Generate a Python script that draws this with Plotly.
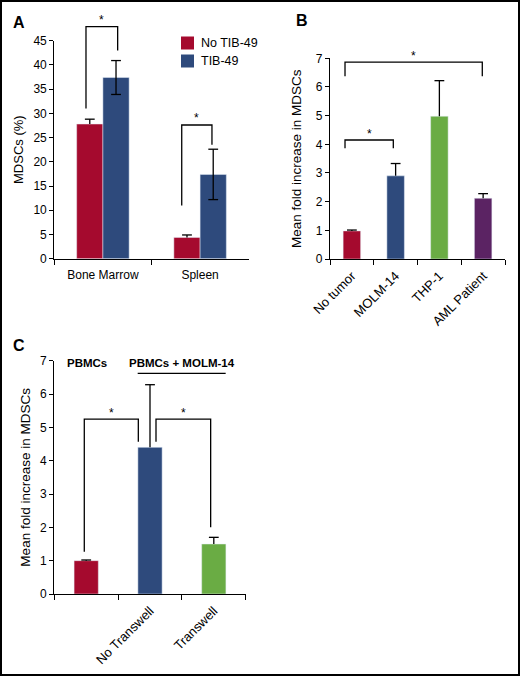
import plotly.graph_objects as go

# ---------------- data ----------------
# Panel A
A_CATEGORIES = ["Bone Marrow", "Spleen"]
A_SERIES = ["No TIB-49", "TIB-49"]
A_NO_TIB = [27.8, 4.4]
A_NO_TIB_ERR = [1.0, 0.5]
A_TIB = [37.4, 17.4]
A_TIB_ERR = [3.5, 5.2]
A_YTICKS = [0, 5, 10, 15, 20, 25, 30, 35, 40, 45]

# Panel B
B_CATEGORIES = ["No tumor", "MOLM-14", "THP-1", "AML Patient"]
B_VALUES = [0.98, 2.9, 4.98, 2.12]
B_ERR = [0.03, 0.43, 1.24, 0.16]
B_YTICKS = [0, 1, 2, 3, 4, 5, 6, 7]

# Panel C
C_CATEGORIES = ["PBMCs", "No Transwell", "Transwell"]
C_TICK_LABELS = ["", "No Transwell", "Transwell"]
C_VALUES = [1.0, 4.4, 1.5]
C_ERR = [0.02, 1.88, 0.2]
C_YTICKS = [0, 1, 2, 3, 4, 5, 6, 7]

# ---------------- styles ----------------
W, H = 520, 676
FONT = "Arial, Liberation Sans, Helvetica, sans-serif"
RED = "#A50A2E"
BLUE = "#2E4A7C"
GREEN = "#6AAC44"
PURPLE = "#5B2363"
B_COLORS = [RED, BLUE, GREEN, PURPLE]
C_COLORS = [RED, BLUE, GREEN]
A_BAR_W = 0.27
A_OFFSETS = [-A_BAR_W, 0.0]


def px_x(p):
    return p / W


def px_y(p):
    return 1 - p / H


# subplot domains (from pixel positions)
A_XDOM = [px_x(54.3), px_x(248.7)]
A_YDOM = [px_y(258.7), px_y(40.7)]
B_XDOM = [px_x(330), px_x(505)]
B_YDOM = [px_y(259), px_y(58.3)]
C_XDOM = [px_x(54.3), px_x(245.7)]
C_YDOM = [px_y(594), px_y(360.7)]

A_YMAX = 45
B_YMAX = 7
C_YMAX = 7


def err(vals, minus=None):
    # stems only; caps are drawn as line markers so no cap sits on the bar top
    d = dict(type="data", array=vals, color="black", thickness=1.3, width=0, visible=True)
    d["symmetric"] = False
    d["arrayminus"] = minus if minus is not None else [0] * len(vals)
    return d


CAP = dict(symbol="line-ew", size=7, color="black", line=dict(color="black", width=1.3))


def caps(x, ys, xa, ya):
    return go.Scatter(x=x, y=ys, mode="markers", marker=CAP, xaxis=xa, yaxis=ya,
                      showlegend=False, hoverinfo="skip", cliponaxis=False)


fig = go.Figure()

# Panel A bars
fig.add_trace(go.Bar(x=A_CATEGORIES, y=A_NO_TIB, name=A_SERIES[0], marker_color=RED,
                     width=A_BAR_W, offset=A_OFFSETS[0], error_y=err(A_NO_TIB_ERR),
                     xaxis="x", yaxis="y", showlegend=False))
fig.add_trace(go.Bar(x=A_CATEGORIES, y=A_TIB, name=A_SERIES[1], marker_color=BLUE,
                     width=A_BAR_W, offset=A_OFFSETS[1], error_y=err(A_TIB_ERR, A_TIB_ERR),
                     xaxis="x", yaxis="y", showlegend=False))

# Panel B bars
fig.add_trace(go.Bar(x=B_CATEGORIES, y=B_VALUES, marker_color=B_COLORS, width=0.4,
                     error_y=err(B_ERR), xaxis="x2", yaxis="y2", showlegend=False))

# Panel C bars
fig.add_trace(go.Bar(x=C_CATEGORIES, y=C_VALUES, marker_color=C_COLORS, width=0.38,
                     error_y=err(C_ERR), xaxis="x3", yaxis="y3", showlegend=False))

# error bar caps
a_idx = list(range(len(A_CATEGORIES)))
xr = [i + A_OFFSETS[0] + A_BAR_W / 2 for i in a_idx]
xb = [i + A_OFFSETS[1] + A_BAR_W / 2 for i in a_idx]
fig.add_trace(caps(xr, [v + e for v, e in zip(A_NO_TIB, A_NO_TIB_ERR)], "x4", "y4"))
fig.add_trace(caps(xb + xb, [v + e for v, e in zip(A_TIB, A_TIB_ERR)] +
                   [v - e for v, e in zip(A_TIB, A_TIB_ERR)], "x4", "y4"))
fig.add_trace(caps(B_CATEGORIES, [v + e for v, e in zip(B_VALUES, B_ERR)], "x2", "y2"))
fig.add_trace(caps(C_CATEGORIES, [v + e for v, e in zip(C_VALUES, C_ERR)], "x3", "y3"))

# invisible overlay subplot for panel B decorations
fig.add_trace(go.Scatter(x=[], y=[], xaxis="x5", yaxis="y5", showlegend=False, hoverinfo="skip"))


def overlay_top(ydom, ymax):
    return (1 - ydom[0]) / (ydom[1] - ydom[0]) * ymax


tick_common = dict(showline=True, linecolor="black", linewidth=1.3, ticks="outside",
                   tickwidth=1.3, tickcolor="black", showgrid=False, automargin=False,
                   zeroline=False)
f12 = dict(size=12, color="black", family=FONT)
f13 = dict(size=13, color="black", family=FONT)

fig.update_layout(
    width=W, height=H, margin=dict(l=0, r=0, t=0, b=0, autoexpand=False),
    paper_bgcolor="white", plot_bgcolor="rgba(0,0,0,0)",
    font=dict(family=FONT, color="black"),
    barmode="overlay",
    xaxis=dict(domain=A_XDOM, anchor="y", type="category", range=[-0.5, 1.5],
               tickson="boundaries", ticklen=5, tickfont=f12, ticklabelstandoff=5, **tick_common),
    yaxis=dict(domain=A_YDOM, anchor="x", range=[0, A_YMAX], tickvals=A_YTICKS, ticklen=4,
               tickfont=f12, title=dict(text="MDSCs (%)", font=dict(size=13), standoff=6),
               **tick_common),
    xaxis2=dict(domain=B_XDOM, anchor="y2", type="category", range=[-0.5, 3.5],
                tickson="boundaries", tickangle=-45, ticklen=5, tickfont=f13,
                ticklabelstandoff=3, **tick_common),
    yaxis2=dict(domain=B_YDOM, anchor="x2", range=[0, B_YMAX], tickvals=B_YTICKS, ticklen=4,
                tickfont=f12,
                title=dict(text="Mean fold increase in MDSCs", font=dict(size=13.5), standoff=11),
                **tick_common),
    xaxis3=dict(domain=C_XDOM, anchor="y3", type="category", range=[-0.5, 2.5],
                tickson="boundaries", tickangle=-45, tickmode="array",
                tickvals=C_CATEGORIES, ticktext=C_TICK_LABELS, ticklen=5, tickfont=f13,
                ticklabelstandoff=3, **tick_common),
    yaxis3=dict(domain=C_YDOM, anchor="x3", range=[0, C_YMAX], tickvals=C_YTICKS, ticklen=4,
                tickfont=f12,
                title=dict(text="Mean fold increase in MDSCs", font=dict(size=13.5), standoff=6),
                **tick_common),
    xaxis4=dict(domain=A_XDOM, anchor="y4", range=[-0.5, 1.5], visible=False),
    yaxis4=dict(domain=[A_YDOM[0], 1], anchor="x4", range=[0, overlay_top(A_YDOM, A_YMAX)], visible=False),
    xaxis5=dict(domain=B_XDOM, anchor="y5", range=[-0.5, 3.5], visible=False),
    yaxis5=dict(domain=[B_YDOM[0], 1], anchor="x5", range=[0, overlay_top(B_YDOM, B_YMAX)], visible=False),
)

shapes = []
annotations = []


def bracket(xref, yref, x0, x1, y0, y1, top):
    shapes.append(dict(type="path", xref=xref, yref=yref,
                       path=f"M {x0},{y0} L {x0},{top} L {x1},{top} L {x1},{y1}",
                       line=dict(color="black", width=1.3)))
    annotations.append(dict(xref=xref, yref=yref, x=(x0 + x1) / 2, y=top, text="*",
                            showarrow=False, yanchor="bottom", yshift=-2.5,
                            font=dict(size=12, color="black", family=FONT)))


# Panel A brackets (overlay axes x4/y4)
bracket("x4", "y4", -0.174, 0.152, 31.0, 43.0, 47.9)
bracket("x4", "y4", 0.811, 1.122, 11.0, 23.5, 27.6)

# Panel B brackets (overlay axes x5/y5)
bracket("x5", "y5", -0.157, 2.981, 6.37, 6.37, 6.87)
bracket("x5", "y5", -0.157, 0.947, 3.86, 3.86, 4.15)

# Panel C brackets
bracket("x3", "y3", -0.03, 0.817, 1.27, 4.57, 5.25)
bracket("x3", "y3", 1.094, 1.951, 4.57, 2.0, 5.25)
shapes.append(dict(type="line", xref="x3", yref="y3", x0=0.807, x1=2.186, y0=6.62, y1=6.62,
                   line=dict(color="black", width=1.3)))
annotations.append(dict(xref="x3", yref="y3", x=0.008, y=6.94, text="<b>PBMCs</b>", showarrow=False,
                        font=dict(size=11.5, color="black", family=FONT)))
annotations.append(dict(xref="x3", yref="y3", x=1.497, y=6.94, text="<b>PBMCs + MOLM-14</b>",
                        showarrow=False, font=dict(size=11.5, color="black", family=FONT)))

# Panel A legend (manual)
for i, (name, col) in enumerate(zip(A_SERIES, [RED, BLUE])):
    yc = 43 + i * 18
    shapes.append(dict(type="rect", xref="paper", yref="paper",
                       x0=px_x(181), x1=px_x(194), y0=px_y(yc + 6.5), y1=px_y(yc - 6.5),
                       fillcolor=col, line=dict(width=0)))
    annotations.append(dict(xref="paper", yref="paper", x=px_x(199), y=px_y(yc), text=name,
                            xanchor="left", yanchor="middle", showarrow=False,
                            font=dict(size=12.5, color="black", family=FONT)))

# panel letters
for letter, (cx, cy) in {"A": (18.8, 22.8), "B": (301.5, 20.5), "C": (18.7, 346)}.items():
    annotations.append(dict(xref="paper", yref="paper", x=px_x(cx), y=px_y(cy), text=f"<b>{letter}</b>",
                            xanchor="center", yanchor="middle", showarrow=False,
                            font=dict(size=16, color="black", family=FONT)))

# outer frame
shapes.append(dict(type="rect", xref="paper", yref="paper", x0=0, x1=1, y0=0, y1=1,
                   line=dict(color="black", width=4)))

fig.update_layout(shapes=shapes, annotations=annotations)

fig.write_html("out.html", config={"displayModeBar": False},
               post_script="document.body.style.margin='0px';")
